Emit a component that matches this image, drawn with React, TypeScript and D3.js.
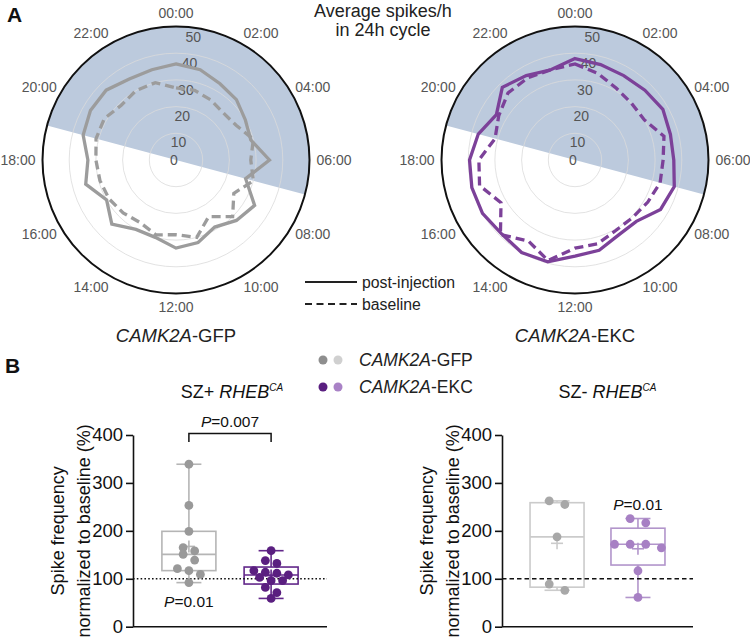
import React, { useEffect, useRef } from 'react';
import * as d3 from 'd3';

const FONT = "'Liberation Sans', Arial, Helvetica, sans-serif";

// panel A: average spikes per hour, 24 hourly values starting at 00:00
const hourLabels = ['00:00', '02:00', '04:00', '06:00', '08:00', '10:00', '12:00', '14:00', '16:00', '18:00', '20:00', '22:00'];
const radialTicks = [0, 10, 20, 30, 40, 50];
const gfpPost = [36, 35, 33, 32, 30, 29, 35, 27, 34, 32, 29, 32, 33, 30, 30, 34, 30, 35, 33, 36, 37, 37, 35, 35];
const gfpBase = [27, 27, 26, 25, 26, 30, 28, 30, 25, 30, 24.5, 30, 28, 29, 27, 28, 29, 29.5, 30, 31, 31, 29, 30, 30];
const ekcPost = [38, 37, 36.5, 37, 38, 37, 37, 38.5, 37, 32.5, 32.5, 35, 36, 39.5, 40, 39, 40, 40, 39.5, 37.5, 34, 38.5, 36.5, 35];
const ekcBase = [36, 33.5, 31, 30, 30, 34.5, 33, 33, 31.5, 30.5, 30.5, 32.5, 33, 39, 35, 39.5, 32, 37, 36, 31, 33, 35.5, 35.5, 35];
const nightStart = 19;
const nightEnd = 7;

// panel B: spike frequency normalized to baseline (%)
const groups = ['GFP', 'EKC'];
const yTicks = [0, 100, 200, 300, 400];
const szPlusGfp = [339, 253, 199, 165, 158, 151, 139, 121, 117, 109, 92];
const szPlusEkc = [158.6, 138, 132, 117, 113.6, 111.5, 108, 103, 96, 96, 82, 71, 59];
const szMinusGfp = [262.5, 255, 187.5, 89, 76];
const szMinusEkc = [225.7, 216.7, 172, 172, 172, 164.6, 116.7, 61];

const SHADE = '#bccadd';
const GRAY = '#9c9c9c';
const PURPLE = '#7c4199';

// Prism-style percentile: rank (n+1)p
const quant = (vals, p) => {
  const s = [...vals].sort((a, b) => a - b);
  const rank = (s.length + 1) * p;
  const lo = Math.max(1, Math.min(s.length, Math.floor(rank)));
  const hi = Math.max(1, Math.min(s.length, Math.ceil(rank)));
  const f = rank - Math.floor(rank);
  return s[lo - 1] + (s[hi - 1] - s[lo - 1]) * (lo === hi ? 0 : f);
};

const App = () => {
  const svgRef = useRef(null);

  useEffect(() => {
    const svg = d3.select(svgRef.current);
    svg.selectAll('*').remove();
    svg.style('font-family', FONT);

    const drawRadar = (cx, cy, post, base, color, name) => {
      const R = 133.5;
      const r = d3.scaleLinear().domain([0, 50]).range([0, R]);
      const ang = d3.scaleLinear().domain([0, 24]).range([0, 2 * Math.PI]);
      const g = svg.append('g').attr('transform', `translate(${cx},${cy})`);

      g.append('path')
        .attr('d', d3.arc()({ innerRadius: 0, outerRadius: R, startAngle: ang(nightStart), endAngle: ang(nightEnd + 24) }))
        .attr('fill', SHADE);

      radialTicks.slice(1, -1).forEach(v => {
        g.append('circle').attr('r', r(v)).attr('fill', 'none')
          .attr('stroke', '#dadada').attr('stroke-width', 0.8);
      });

      const la = 8 * Math.PI / 180;
      radialTicks.forEach(v => {
        const rr = v === 0 ? 0 : r(v) - 9;
        g.append('text')
          .attr('x', v === 0 ? -2 : Math.sin(la) * rr)
          .attr('y', -Math.cos(la) * rr)
          .attr('text-anchor', 'middle')
          .attr('dominant-baseline', 'central')
          .attr('font-size', 14)
          .attr('fill', '#555')
          .text(v);
      });

      const line = d3.lineRadial()
        .angle((_, i) => ang(i))
        .radius(d => r(d))
        .curve(d3.curveLinearClosed);

      g.append('path').datum(base).attr('d', line)
        .attr('fill', 'none').attr('stroke', color).attr('stroke-width', 3.3)
        .attr('stroke-dasharray', '9,5');
      g.append('path').datum(post).attr('d', line)
        .attr('fill', 'none').attr('stroke', color).attr('stroke-width', 3.3);

      g.append('circle').attr('r', R).attr('fill', 'none')
        .attr('stroke', '#111').attr('stroke-width', 2);

      hourLabels.forEach((lab, i) => {
        const t = ang(i * 2);
        const diag = Math.abs(Math.sin(2 * t)) > 0.8 && Math.abs(Math.cos(t)) > 0.8 ? 6 : 0;
        g.append('text')
          .attr('x', Math.sin(t) * 158 + Math.sign(Math.sin(t)) * diag)
          .attr('y', -Math.cos(t) * 147)
          .attr('text-anchor', 'middle')
          .attr('dominant-baseline', 'central')
          .attr('font-size', 14)
          .attr('fill', '#555')
          .text(lab);
      });

      const sub = svg.append('text')
        .attr('x', cx).attr('y', 342)
        .attr('text-anchor', 'middle')
        .attr('font-size', 18.5)
        .attr('fill', '#222');
      sub.append('tspan').attr('font-style', 'italic').text('CAMK2A');
      sub.append('tspan').text('-' + name);
    };

    drawRadar(176, 160, gfpPost, gfpBase, GRAY, 'GFP');
    drawRadar(575, 160, ekcPost, ekcBase, PURPLE, 'EKC');

    // panel labels
    svg.append('text').attr('x', 7).attr('y', 22).attr('font-size', 21)
      .attr('font-weight', 'bold').attr('fill', '#111').text('A');
    svg.append('text').attr('x', 5).attr('y', 373).attr('font-size', 21)
      .attr('font-weight', 'bold').attr('fill', '#111').text('B');

    // title of A
    svg.append('text').attr('x', 383).attr('y', 17).attr('text-anchor', 'middle')
      .attr('font-size', 18).attr('fill', '#222').text('Average spikes/h');
    svg.append('text').attr('x', 383).attr('y', 36).attr('text-anchor', 'middle')
      .attr('font-size', 18).attr('fill', '#222').text('in 24h cycle');

    // legend of A
    svg.append('line').attr('x1', 305).attr('x2', 357).attr('y1', 282).attr('y2', 282)
      .attr('stroke', '#222').attr('stroke-width', 2);
    svg.append('line').attr('x1', 305).attr('x2', 357).attr('y1', 304).attr('y2', 304)
      .attr('stroke', '#222').attr('stroke-width', 2).attr('stroke-dasharray', '7,4.5');
    svg.append('text').attr('x', 362).attr('y', 282).attr('dominant-baseline', 'central')
      .attr('font-size', 15.8).attr('fill', '#222').text('post-injection');
    svg.append('text').attr('x', 362).attr('y', 304).attr('dominant-baseline', 'central')
      .attr('font-size', 15.8).attr('fill', '#222').text('baseline');

    // legend of B
    const legB = [
      { name: 'GFP', dark: '#8e8e8e', light: '#d0d0d0', y: 360 },
      { name: 'EKC', dark: '#5a1f80', light: '#a982c6', y: 387 },
    ];
    legB.forEach(l => {
      svg.append('circle').attr('cx', 323).attr('cy', l.y).attr('r', 4.5).attr('fill', l.dark);
      svg.append('circle').attr('cx', 338).attr('cy', l.y).attr('r', 4.5).attr('fill', l.light);
      const t = svg.append('text').attr('x', 359).attr('y', l.y).attr('dominant-baseline', 'central')
        .attr('font-size', 17.5).attr('fill', '#222');
      t.append('tspan').attr('font-style', 'italic').text('CAMK2A');
      t.append('tspan').text('-' + l.name);
    });

    const drawBoxPanel = (x0, x1, sign, sets, refDash, spacing, rowGap, titleShift) => {
      const y = d3.scaleLinear().domain([0, 400]).range([626.7, 435]);
      const x = d3.scalePoint().domain(groups).range([x0, x1]).padding(0.68);
      const g = svg.append('g');

      const ax = g.append('g').attr('transform', `translate(${x0},0)`)
        .call(d3.axisLeft(y).tickValues(yTicks).tickSize(7).tickSizeOuter(0).tickPadding(3));
      ax.select('.domain').attr('stroke', '#111').attr('stroke-width', 1.6);
      ax.selectAll('.tick line').attr('stroke', '#111').attr('stroke-width', 1.6);
      ax.selectAll('.tick text').attr('font-size', 18.5).attr('fill', '#111').attr('font-family', FONT);
      g.append('line').attr('x1', x0).attr('x2', x1).attr('y1', y(0)).attr('y2', y(0))
        .attr('stroke', '#111').attr('stroke-width', 1.6);

      g.append('text').attr('transform', `translate(${x0 - 75},${y(200)}) rotate(-90)`)
        .attr('text-anchor', 'middle').attr('dominant-baseline', 'central')
        .attr('font-size', 18).attr('fill', '#111').text('Spike frequency');
      g.append('text').attr('transform', `translate(${x0 - 49},${y(200)}) rotate(-90)`)
        .attr('text-anchor', 'middle').attr('dominant-baseline', 'central')
        .attr('font-size', 18).attr('fill', '#111').text('normalized to baseline (%)');

      const title = g.append('text').attr('x', (x0 + x1) / 2 + titleShift).attr('y', 398)
        .attr('text-anchor', 'middle').attr('font-size', 18).attr('fill', '#111');
      title.append('tspan').text(`SZ${sign} `);
      title.append('tspan').attr('font-style', 'italic').text('RHEB');
      title.append('tspan').attr('font-style', 'italic').attr('font-size', 10).attr('dy', -7).text('CA');

      const boxW = 54;
      const capW = 25;
      const dotR = 4.4;

      sets.forEach(s => {
        const cx = x(s.group);
        const mn = d3.min(s.values);
        const mx = d3.max(s.values);
        const q1 = quant(s.values, 0.25);
        const q3 = quant(s.values, 0.75);
        const med = quant(s.values, 0.5);
        const mean = d3.mean(s.values);

        g.append('line').attr('x1', cx).attr('x2', cx).attr('y1', y(mn)).attr('y2', y(mx))
          .attr('stroke', s.line).attr('stroke-width', 1.6);
        [mn, mx].forEach(v => g.append('line').attr('x1', cx - capW / 2).attr('x2', cx + capW / 2)
          .attr('y1', y(v)).attr('y2', y(v)).attr('stroke', s.line).attr('stroke-width', 1.6));
        g.append('rect').attr('x', cx - boxW / 2).attr('y', y(q3)).attr('width', boxW)
          .attr('height', y(q1) - y(q3)).attr('fill', 'white').attr('stroke', s.line).attr('stroke-width', 1.6);
        g.append('line').attr('x1', cx - boxW / 2).attr('x2', cx + boxW / 2).attr('y1', y(med)).attr('y2', y(med))
          .attr('stroke', s.line).attr('stroke-width', 1.6);
        g.append('line').attr('x1', cx - 6).attr('x2', cx + 6).attr('y1', y(mean)).attr('y2', y(mean))
          .attr('stroke', s.line).attr('stroke-width', 1.6);
        g.append('line').attr('x1', cx).attr('x2', cx).attr('y1', y(mean) - 6).attr('y2', y(mean) + 6)
          .attr('stroke', s.line).attr('stroke-width', 1.6);
      });

      g.append('line').attr('x1', x0).attr('x2', x1).attr('y1', y(100)).attr('y2', y(100))
        .attr('stroke', '#111').attr('stroke-width', 1.4).attr('stroke-dasharray', refDash);

      sets.forEach(s => {
        const cx = x(s.group);
        // bin values into rows, then center each row
        const sorted = [...s.values].sort((a, b) => b - a);
        const rows = [];
        sorted.forEach(v => {
          const last = rows[rows.length - 1];
          if (last && y(v) - y(last[0]) < rowGap) last.push(v);
          else rows.push([v]);
        });
        rows.forEach(row => {
          row.forEach((v, i) => {
            g.append('circle')
              .attr('cx', cx + (i - (row.length - 1) / 2) * spacing)
              .attr('cy', y(v)).attr('r', dotR).attr('fill', s.dot);
          });
        });
        if (s.p) {
          const t = g.append('text').attr('x', cx).attr('y', s.pAbove ? y(d3.max(s.values)) - 9 : y(d3.min(s.values)) + 24)
            .attr('text-anchor', 'middle').attr('font-size', 15.5).attr('fill', '#111');
          t.append('tspan').attr('font-style', 'italic').text('P');
          t.append('tspan').text('=' + s.p);
        }
      });
      return { x, y, g };
    };

    const left = drawBoxPanel(133, 327, '+', [
      { group: 'GFP', values: szPlusGfp, line: '#b5b5b5', dot: '#999999', p: '0.01', pAbove: false },
      { group: 'EKC', values: szPlusEkc, line: '#62278a', dot: '#5a1f80' },
    ], '1.6,2.2', 11.5, 6, 2);

    // bracket between groups
    const bx1 = left.x('GFP');
    const bx2 = left.x('EKC');
    left.g.append('path')
      .attr('d', `M${bx1},442V433.5H${bx2}V442`)
      .attr('fill', 'none').attr('stroke', '#111').attr('stroke-width', 1.5);
    const pt = left.g.append('text').attr('x', (bx1 + bx2) / 2).attr('y', 427)
      .attr('text-anchor', 'middle').attr('font-size', 15.5).attr('fill', '#111');
    pt.append('tspan').attr('font-style', 'italic').text('P');
    pt.append('tspan').text('=0.007');

    drawBoxPanel(502, 693, '-', [
      { group: 'GFP', values: szMinusGfp, line: '#cbcbcb', dot: '#a8a8a8' },
      { group: 'EKC', values: szMinusEkc, line: '#b295cb', dot: '#a780c4', p: '0.01', pAbove: true },
    ], '4.5,3', 15.6, 7, 10);
  }, []);

  return (
    <svg ref={svgRef} width={750} height={642}
      style={{ position: 'absolute', left: 0, top: 0, background: 'white' }} />
  );
};

export default App;
